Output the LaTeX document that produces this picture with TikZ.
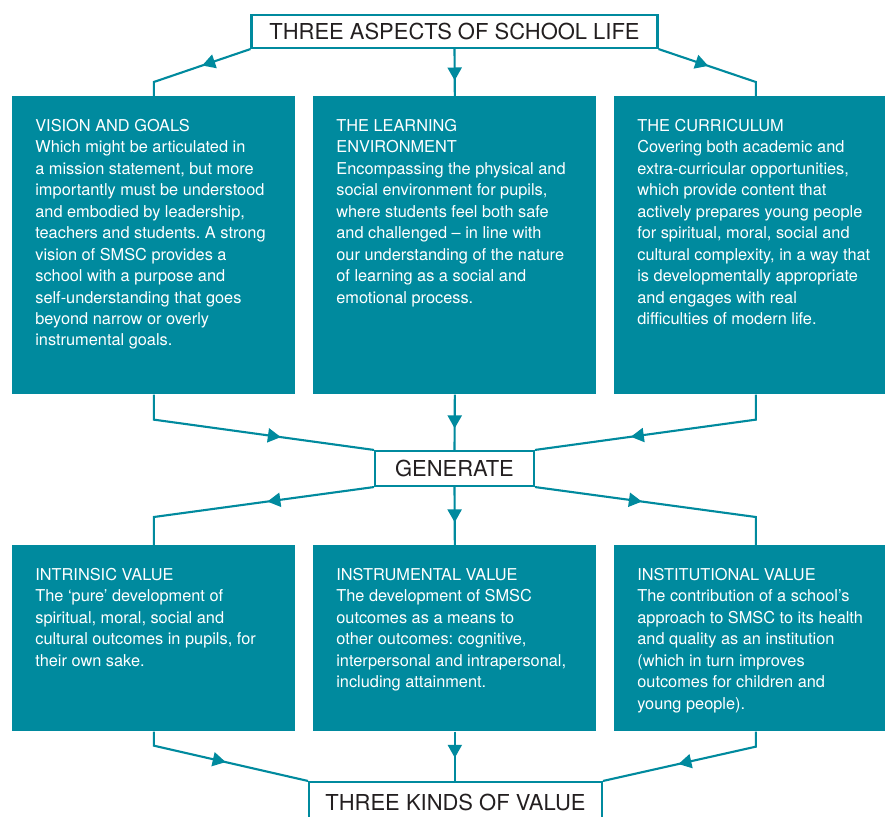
\documentclass[tikz,border=0pt]{standalone}
\usepackage{fontspec}
\setmainfont{TeX Gyre Heros}
\usepackage{xcolor}
\usetikzlibrary{arrows.meta}
\usetikzlibrary{positioning}
\usetikzlibrary{decorations.markings}
\definecolor{smscteal}{HTML}{008A9E}
\definecolor{inkgrey}{HTML}{231F20}
\frenchspacing

% text block of a teal panel, fixed height, top aligned
\newcommand{\paneltext}[2]{\parbox[t][#1][t]{4.74cm}{\raggedright #2}}

\begin{document}
\begin{tikzpicture}[x=0.02cm, y=-0.02cm,
		panel/.style={fill=smscteal, text=white, anchor=north west, inner xsep=0.46cm, inner ysep=0.46cm, font=\fontsize{9.3}{12.2}\selectfont},
		headbox/.style={draw=smscteal, line width=1.2pt, fill=white, text=inkgrey, inner sep=0pt, font=\fontsize{12.5}{14}\selectfont},
		link/.style={draw=smscteal, line width=1.2pt},
		flow/.style={link, postaction={decorate}, decoration={markings, mark=at position #1 with {\arrow[smscteal]{Triangle[length=7.4pt,width=8pt]}}}}]
	\path[use as bounding box, fill=white] (0,0) rectangle (885,817);

	% headings
	\node[headbox, minimum width=8.12cm, minimum height=0.66cm] (aspects) at (454.5,31.5) {THREE ASPECTS OF SCHOOL LIFE};
	\node[headbox, minimum width=3.18cm, minimum height=0.7cm] (generate) at (454.5,468.5) {GENERATE};
	\node[headbox, minimum width=5.86cm, minimum height=0.8cm] (kinds) at (455.5,802) {THREE KINDS OF VALUE};

	% first row
	\node[panel] (vision) at (12,96) {\paneltext{5.04cm}{VISION AND GOALS\\
		Which might be articulated in\\
		a mission statement, but more\\
		importantly must be understood\\
		and embodied by leadership,\\
		teachers and students. A strong\\
		vision of SMSC provides a\\
		school with a purpose and\\
		self-understanding that goes\\
		beyond narrow or overly\\
		instrumental goals.}};
	\node[panel] (environment) at (313,96) {\paneltext{5.04cm}{THE LEARNING\\
		ENVIRONMENT\\
		Encompassing the physical and\\
		social environment for pupils,\\
		where students feel both safe\\
		and challenged – in line with\\
		our understanding of the nature\\
		of learning as a social and\\
		emotional process.}};
	\node[panel] (curriculum) at (614,96) {\paneltext{5.04cm}{THE CURRICULUM\\
		Covering both academic and\\
		extra-curricular opportunities,\\
		which provide content that\\
		actively prepares young people\\
		for spiritual, moral, social and\\
		cultural complexity, in a way that\\
		is developmentally appropriate\\
		and engages with real\\
		difficulties of modern life.}};

	% second row
	\node[panel] (intrinsic) at (12,545) {\paneltext{2.80cm}{INTRINSIC VALUE\\
		The ‘pure’ development of\\
		spiritual, moral, social and\\
		cultural outcomes in pupils, for\\
		their own sake.}};
	\node[panel] (instrumental) at (313,545) {\paneltext{2.80cm}{INSTRUMENTAL VALUE\\
		The development of SMSC\\
		outcomes as a means to\\
		other outcomes: cognitive,\\
		interpersonal and intrapersonal,\\
		including attainment.}};
	\node[panel] (institutional) at (614,545) {\paneltext{2.80cm}{INSTITUTIONAL VALUE\\
		The contribution of a school’s\\
		approach to SMSC to its health\\
		and quality as an institution\\
		(which in turn improves\\
		outcomes for children and\\
		young people).}};

	% aspects to first row
	\draw[flow=0.44] (aspects.south west) -- ([yshift=0.28cm]vision.north) -- (vision.north);
	\draw[flow=0.67] (aspects.south) -- (environment.north);
	\draw[flow=0.45] (aspects.south east) -- ([yshift=0.28cm]curriculum.north) -- (curriculum.north);

	% first row to generate
	\draw[flow=0.62] (vision.south) -- ([yshift=-0.5cm]vision.south) -- (generate.north west);
	\draw[flow=0.61] (environment.south) -- (generate.north);
	\draw[flow=0.61] (curriculum.south) -- ([yshift=-0.5cm]curriculum.south) -- (generate.north east);

	% generate to second row
	\draw[flow=0.43] (generate.south west) -- ([yshift=0.56cm]intrinsic.north) -- (intrinsic.north);
	\draw[flow=0.61] (generate.south) -- (instrumental.north);
	\draw[flow=0.43] (generate.south east) -- ([yshift=0.56cm]institutional.north) -- (institutional.north);

	% second row to kinds of value
	\draw[flow=0.51] (intrinsic.south) -- ([yshift=-0.28cm]intrinsic.south) -- (kinds.north west);
	\draw[flow=0.53] (instrumental.south) -- (instrumental.south |- kinds.north);
	\draw[flow=0.55] (institutional.south) -- ([yshift=-0.3cm]institutional.south) -- (kinds.north east);
\end{tikzpicture}
\end{document}
